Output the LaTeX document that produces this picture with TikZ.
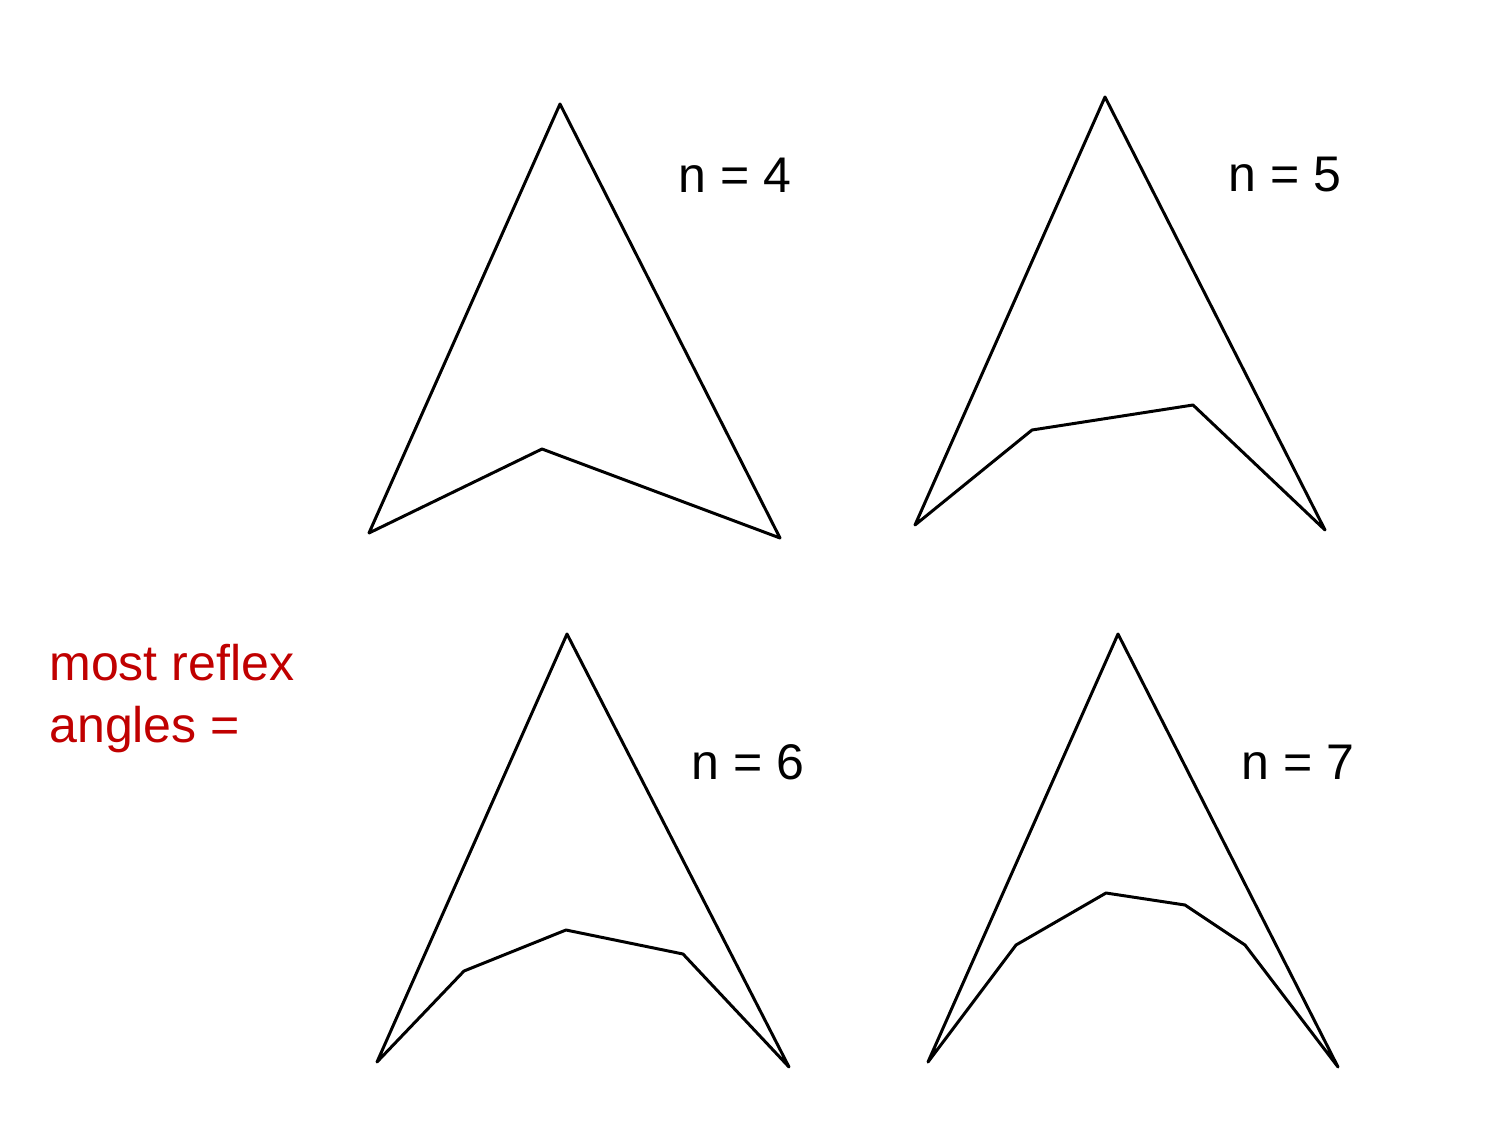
\documentclass[tikz,border=0pt]{standalone}
\usepackage{fontspec}
\setmainfont{Liberation Sans}
\definecolor{redtext}{RGB}{192,0,0}
\begin{document}
\begin{tikzpicture}[x=0.02cm,y=-0.02cm,
  poly/.style={draw=black,line width=1.7pt,line join=round},
  lab/.style={font=\fontsize{28.5}{33}\selectfont,inner sep=0pt},
  redlab/.style={font=\fontsize{28.5}{35}\selectfont,text=redtext,align=left,inner sep=0pt,anchor=north west}]
\useasboundingbox (0,0) rectangle (1500,1125);
% n = 4
\draw[poly] (560,104) -- (780,538) -- (542,449) -- (369,533) -- cycle;
% n = 5
\draw[poly] (1105,97) -- (1325,530) -- (1193,405) -- (1032,430) -- (915,525) -- cycle;
% n = 6
\draw[poly] (567,634) -- (789,1067) -- (683,954) -- (566,930) -- (464,971) -- (377,1062) -- cycle;
% n = 7
\draw[poly] (1118,634) -- (1338,1067) -- (1245,945) -- (1185,905) -- (1106,893) -- (1016,945) -- (928,1062) -- cycle;
\node[lab] (l4) at (735,175) {n = 4};
\node[lab] (l5) at (1285,175) {n = 5};
\node[lab] (l6) at (748,762) {n = 6};
\node[lab] (l7) at (1298,762) {n = 7};
\node[redlab] (red) at (49,644) {most reflex\\angles =};
\end{tikzpicture}
\end{document}
